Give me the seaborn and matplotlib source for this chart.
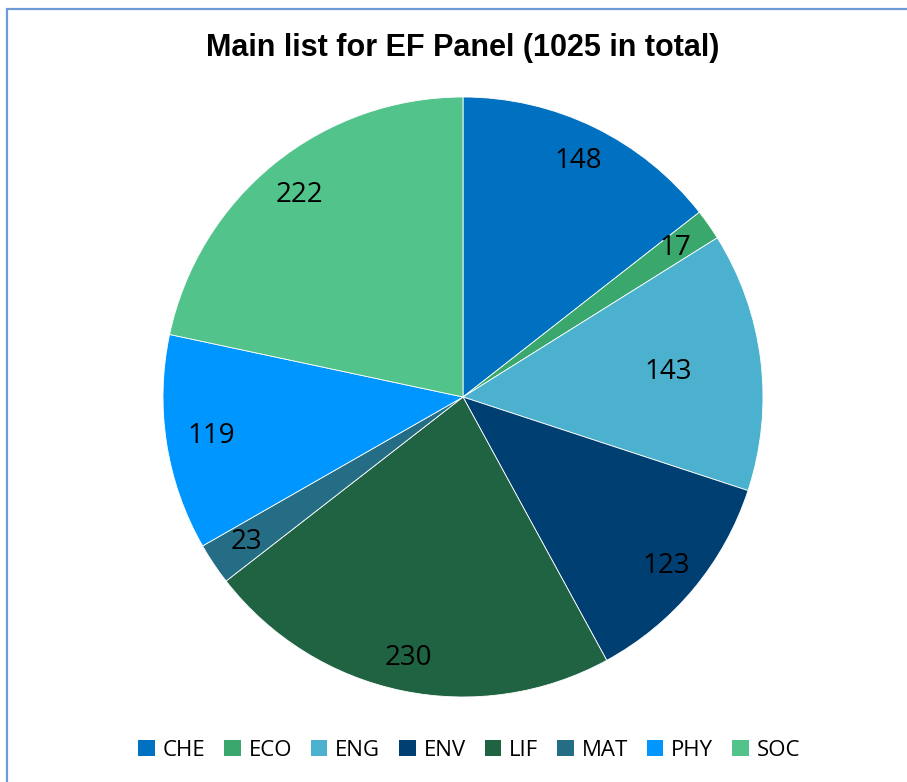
import numpy as np
import matplotlib
matplotlib.use("Agg")
import matplotlib.pyplot as plt
from matplotlib.patches import Patch, Rectangle
import seaborn as sns

categories = ["CHE", "ECO", "ENG", "ENV", "LIF", "MAT", "PHY", "SOC"]
values = [148, 17, 143, 123, 230, 23, 119, 222]
colors = ["#0070C0", "#3AA76D", "#4BB1CF", "#003F72", "#1F6342", "#246D84", "#0096FF", "#52C48B"]
title = "Main list for EF Panel (1025 in total)"

sns.set_theme(style="white")
plt.rcParams["font.family"] = ["Open Sans", "DejaVu Sans"]
plt.rcParams["text.color"] = "black"

fig = plt.figure(figsize=(9.07, 7.82), dpi=100)
fig.patch.set_facecolor("white")

# outer border (extends beyond right/bottom edge as in the reference)
fig.add_artist(Rectangle((6.5 / 907, -0.05), 1.1, 1 - 8.5 / 782 + 0.05,
                         transform=fig.transFigure, fill=False,
                         edgecolor="#6F9AD3", linewidth=1.6))

ax = fig.add_axes([163 / 907, 1 - 697 / 782, 600 / 907, 600 / 782])
wedges, _ = ax.pie(values, colors=colors, startangle=90, counterclock=False,
                   radius=1.0,
                   wedgeprops=dict(edgecolor="white", linewidth=0.6))
ax.set_xlim(-1, 1)
ax.set_ylim(-1, 1)
ax.set_aspect("equal")
ax.axis("off")

label_r = [0.875, 0.865, 0.69, 0.88, 0.89, 0.87, 0.85, 0.865]
for w, v, r in zip(wedges, values, label_r):
    ang = np.deg2rad((w.theta1 + w.theta2) / 2)
    ax.text(r * np.cos(ang), r * np.sin(ang), str(v), ha="center", va="center",
            fontsize=20, color="black")

fig.text(463 / 907, 1 - 48 / 782, title, ha="center", va="center", color="black",
         fontsize=22, fontweight="bold", family=["Liberation Sans", "DejaVu Sans"])

handles = [Patch(facecolor=c, edgecolor="none", label=l) for c, l in zip(colors, categories)]
leg = fig.legend(handles=handles, loc="center", bbox_to_anchor=(469 / 907, 1 - 750 / 782),
                 ncol=8, frameon=False, fontsize=16, handlelength=0.75, handleheight=0.75,
                 handletextpad=0.35, columnspacing=0.85, borderpad=0)
for t in leg.get_texts():
    t.set_color("black")

fig.savefig("out.png", dpi=100)
